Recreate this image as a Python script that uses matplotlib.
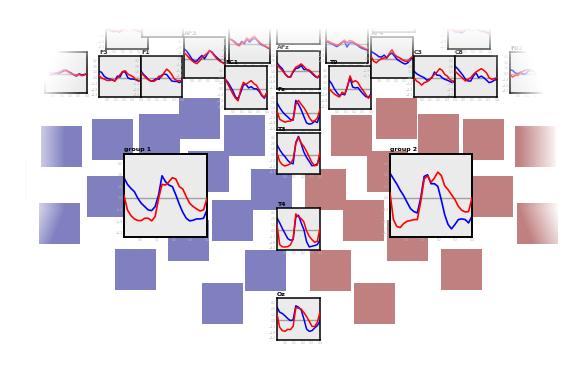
import numpy as np
import matplotlib
matplotlib.use('Agg')
import matplotlib.pyplot as plt

W, H = 584, 368

# time axes (s)
t_small = np.linspace(-0.1, 0.4, 17)
t_group = np.linspace(-0.1, 0.4, 25)

# ---- group averages ----
group1_blue = [2.44, 1.64, 1.16, 0.76, -0.04, -0.64, -1.04, -1.44, -1.52, -1.04, 0.36, 2.68, 1.96,
               1.56, 1.36, 0.36, -0.76, -1.72, -2.44, -2.76, -2.68, -2.52, -2.52, -2.44, -1.44]
group1_red = [0.3, -1.44, -2.12, -2.52, -2.72, -2.72, -2.44, -2.44, -2.76, -2.24, -0.04, 1.64, 1.56,
              1.96, 2.44, 2.28, 1.36, 1.08, 0.16, -0.64, -1.04, -1.32, -1.56, -1.44, -0.04]
group2_blue = [3.0, 2.32, 1.68, 0.92, 0.28, -0.52, -1.28, -1.64, -1.8, 0.0, 2.6, 2.8, 1.72,
               1.72, 1.4, -0.2, -2.0, -3.2, -3.72, -3.2, -2.6, -2.52, -2.6, -3.0, -2.2]
group2_red = [0.6, -2.6, -3.44, -3.56, -3.08, -2.8, -2.72, -2.6, -2.6, -0.4, 2.28, 2.68, 1.88,
              2.4, 3.12, 2.72, 1.48, 1.0, 0.4, -0.2, -1.0, -1.48, -1.68, -1.64, 0.0]

# ---- single channels ----
ch_b_blue = [2.17, 1.3, 0.61, -0.7, -1.48, -1.57, -0.26, 0.7, 0.87, 1.48, 0.43, 0.43, 0.09, -0.61, -1.3, -1.74, -1.04]
ch_b_red = [1.74, 0.87, 0.17, -0.78, -1.48, -1.57, 0.0, 1.04, 1.39, 1.91, 1.22, 0.43, 0.26, -0.35, -1.04, -1.74, -0.87]
ch_c_blue = [2.68, 1.34, 0.27, -0.54, -1.16, -1.88, -2.05, 3.3, 2.23, 0.8, -1.07, -2.77, -3.13, -2.95, -2.32, -2.68, -0.45]
ch_c_red = [0.45, -1.79, -2.23, -2.59, -2.32, -2.32, -1.79, 2.23, 3.3, 2.23, 1.34, 0.18, -1.34, -2.32, -2.23, -1.52, 0.89]
ch_t3_blue = [2.44, 1.22, 0.24, -0.49, -1.38, -2.03, -2.2, 3.0, 4.47, 2.68, 0.65, -0.65, -1.63, -2.68, -2.6, -2.2, -0.41]
ch_t3_red = [0.41, -1.63, -2.44, -2.76, -2.52, -2.2, -1.06, 2.68, 4.23, 2.85, 2.03, 0.81, -0.57, -1.87, -2.68, -2.52, 0.81]
ch_t4_blue = [2.94, 1.75, 0.4, -0.79, -1.98, -2.38, -2.22, 3.17, 3.57, 1.75, 0.16, -2.7, -3.97, -3.81, -3.65, -3.41, -2.22]
ch_t4_red = [1.35, -3.41, -3.97, -3.97, -3.89, -3.49, -2.06, 3.89, 3.17, 2.78, 1.98, -0.16, -1.43, -2.22, -2.86, -2.62, 0.56]
ch_oz_blue = [3.12, 1.92, 1.6, 1.04, 0.4, -0.08, 0.08, 3.44, 3.12, 2.48, 0.32, -2.08, -2.64, -2.48, -1.84, -1.28, -0.24]
ch_oz_red = [1.52, -1.68, -2.48, -2.64, -2.16, -2.24, -1.44, 2.96, 2.88, 2.64, 1.84, 0.88, -0.24, -1.44, -1.52, -0.48, 1.92]
ch_f3_blue = [1.61, 1.29, 0.32, -0.08, -0.32, -0.48, -0.81, 0.4, 0.16, 1.45, 1.37, 0.0, -0.32, -0.32, -0.48, -0.81, -0.56]
ch_f3_red = [0.56, -0.08, -0.32, -0.65, -0.65, -0.48, -0.81, -0.08, 0.73, 1.53, 1.69, 0.89, 0.56, 0.24, -0.4, -0.65, -0.81]
ch_f1_blue = [1.6, 0.8, 0.2, -0.5, -0.9, -0.6, -0.2, -0.4, 0.6, 0.9, 0.8, 0.0, -0.8, -0.9, -0.9, -1.2, -0.8]
ch_f1_red = [1.2, 0.6, -0.1, -0.5, -0.8, -0.9, -0.5, 0.4, 0.2, 1.2, 2.1, 1.6, 0.8, -0.3, -0.7, -0.7, -0.8]
ch_fc1_blue = [2.4, 1.9, 1.0, 0.0, -0.6, -0.6, 0.2, 0.8, 0.0, 1.0, 2.0, 1.6, 0.8, 0.2, -0.4, -0.9, -1.2]
ch_fc1_red = [1.6, 0.9, 0.2, -0.4, -0.9, -1.2, -0.6, 0.2, 0.8, 1.3, 2.0, 1.4, 0.6, -0.1, -0.6, -0.9, -1.4]
ch_fc3_blue = [2.3, 1.6, 0.6, -0.5, -1.9, -2.3, -0.8, 0.9, 1.0, 0.2, 0.5, 0.0, 0.0, -0.6, -1.6, -2.2, -0.8]
ch_fc3_red = [2.3, 1.2, 0.0, -1.2, -2.2, -2.8, -0.2, 1.5, 1.0, 1.5, 1.9, 1.2, 0.8, -0.2, -1.4, -2.0, -0.8]
ch_fc4_blue = [2.0, 1.2, 0.0, -0.9, -1.6, -1.2, -1.4, 0.5, 2.5, 0.4, 0.2, 0.3, -0.5, -1.2, -1.8, -2.0, -1.2]
ch_fc4_red = [0.0, -0.6, -1.2, -1.6, -1.9, -0.8, -1.2, 0.5, 3.0, 1.5, 1.9, 1.5, 0.4, -0.4, -1.3, -2.2, -1.5]
ch_fc2_blue = [1.8, 1.4, 1.0, 0.5, 0.4, 0.9, 0.2, 1.0, 1.4, 0.6, -0.2, -0.6, -1.0, -1.3, -1.0, -0.3, 0.6]
ch_fc2_red = [0.6, -0.6, -1.0, -0.4, 0.0, 0.2, 0.2, 1.3, 2.2, 1.0, 0.5, 0.2, -0.3, -0.6, -0.6, 0.1, 0.6]
ch_f2_blue = [1.6, 1.0, 0.6, 0.3, 0.0, -0.6, -0.4, 0.0, 1.4, 0.6, 0.6, 0.0, -0.4, -0.6, -0.9, -1.2, -0.8]
ch_f2_red = [0.0, -0.8, -1.2, -1.8, -1.2, -1.0, -0.6, 0.2, 0.8, 1.4, 2.2, 1.8, 0.8, 0.4, -0.4, -0.8, -0.8]
ch_f4_blue = [2.8, 2.2, 1.4, 0.6, -0.4, -0.8, -0.8, 0.4, 1.2, 0.0, 0.4, 0.0, -0.6, -1.2, -1.0, -0.6, -0.4]
ch_f4_red = [1.6, 1.0, 0.4, -0.2, -0.8, -0.4, 0.0, 0.8, 1.4, 1.8, 2.2, 1.8, 1.2, 0.0, -0.4, -0.2, 0.0]
ch_f7_blue = [0.8, 0.5, 0.3, 0.0, 0.2, 0.0, 0.3, 0.6, 0.9, 0.5, 0.2, -0.3, -0.6, 0.0, -0.3, -0.2, 0.0]
ch_f7_red = [0.2, 0.0, -0.3, -0.2, 0.0, 0.3, 0.5, 0.9, 0.7, 0.4, 0.0, -0.2, -0.4, -0.2, -0.5, -0.3, 0.1]
ch_af3_blue = [0.2, 0.0, -0.3, -0.5, -0.2, -0.6, -0.3, 0.3, 0.8, 0.4, 0.6, 0.0, -0.3, -0.5, -0.2, -0.6, -0.3]
ch_af3_red = [0.5, 0.3, 0.0, -0.2, -0.4, -0.3, 0.0, 0.5, 0.9, 0.6, 0.3, 0.1, -0.2, -0.3, -0.5, -0.4, -0.2]
ch_af1_blue = [1.2, 1.0, 0.6, 0.0, -0.3, 0.6, 0.0, 1.2, 0.4, 1.0, 1.4, 0.8, 0.0, -0.4, -0.6, -1.0, -1.3]
ch_af1_red = [1.4, 0.9, 0.4, -0.2, -0.5, 0.2, 0.4, 1.4, 0.8, 1.5, 1.8, 1.0, 0.3, -0.2, -0.5, -0.9, -1.1]
ch_fpz_blue = [0.5, 0.3, 0.0, -0.4, -0.1, 0.2, 0.5, 0.8, 0.3, 0.9, 0.4, 0.0, -0.3, -0.5, -0.2, -0.6, 0.0]
ch_fpz_red = [0.3, 0.4, 0.2, -0.1, -0.3, 0.0, 0.3, 0.6, 0.9, 0.7, 0.5, 0.2, -0.2, -0.4, -0.3, -0.4, -0.1]
ch_af2_blue = [0.6, 0.3, 0.0, -0.3, -0.7, -0.4, 0.2, 0.6, -0.8, 0.2, 0.3, 0.0, -0.4, -0.9, -1.2, -1.4, -1.6]
ch_af2_red = [0.8, 0.6, 0.2, 0.0, -0.4, -0.2, 0.4, 0.9, 0.2, 0.8, 0.6, 0.2, -0.2, -0.6, -0.9, -1.2, -1.4]
ch_af4_blue = [0.8, 0.4, 0.0, -0.6, -0.3, -0.8, -0.5, 0.4, 0.0, 0.6, 1.2, 0.4, -0.2, -0.4, -0.3, -0.8, -1.0]
ch_af4_red = [0.4, 0.2, -0.2, -0.4, -0.6, -0.3, 0.0, 0.6, 0.4, 0.9, 0.8, 0.2, -0.1, -0.3, -0.6, -0.7, -0.8]
ch_f8_blue = [1.0, 0.8, 0.2, 0.0, 0.4, -0.1, 0.0, 0.6, 0.9, 0.6, -0.4, -1.0, -0.6, -0.2, -0.5, 0.0, 0.2]
ch_f8_red = [-0.2, -0.8, -0.4, -0.4, 0.3, 0.6, 0.9, 1.0, 0.8, 0.6, 0.2, 0.0, 0.3, 0.4, 0.0, -0.2, -0.2]
ch_fp1_blue = [0.4, 0.2, -0.2, -0.5, -0.7, -0.4, 0.0, 0.4, 0.2, 0.5, 0.3, -0.1, -0.3, -0.2, -0.4, -0.3, -0.2]
ch_fp1_red = [0.6, 0.3, 0.0, -0.3, -0.5, -0.6, -0.2, 0.3, 0.5, 0.4, 0.2, 0.0, -0.2, -0.4, -0.3, -0.2, 0.0]
ch_fp2_blue = [0.5, 0.3, 0.1, -0.2, -0.6, -0.5, -0.1, 0.3, 0.6, 0.2, 0.0, -0.4, -0.6, -0.3, -0.1, 0.0, 0.2]
ch_fp2_red = [0.2, 0.0, -0.2, -0.4, -0.3, -0.1, 0.2, 0.5, 0.8, 0.5, 0.3, 0.0, -0.2, -0.4, -0.2, 0.0, 0.1]
ch_af8_blue = [0.3, 0.1, -0.1, -0.3, -0.5, -0.2, 0.1, 0.3, 0.5, 0.2, -0.1, -0.3, -0.5, -0.3, -0.2, 0.0, 0.1]
ch_af8_red = [0.1, 0.0, -0.2, -0.1, 0.0, 0.2, 0.4, 0.6, 0.4, 0.2, 0.0, -0.1, -0.3, -0.2, -0.1, 0.0, 0.0]

# sensor squares (top-left corner, px)
blue_sq_x = [-14, 41, 39, 92, 87, 139, 179, 224, 188, 251, 212, 168, 115, 245, 202]
blue_sq_y = [158, 126, 203, 119, 176, 114, 98, 115, 151, 169, 200, 220, 249, 250, 283]
red_sq_x = [331, 376, 418, 463, 515, 367, 305, 343, 472, 517, 570, 387, 310, 441, 354]
red_sq_y = [115, 98, 114, 119, 126, 151, 169, 200, 176, 203, 158, 220, 250, 249, 283]
sq_size = 41

# channel layout: name, left, top, width, height, blue, red
channels = [
    ('F7', 45, 52, 42, 41, ch_f7_blue, ch_f7_red),
    ('F3', 99, 56, 42, 41, ch_f3_blue, ch_f3_red),
    ('F1', 141, 56, 41, 41, ch_f1_blue, ch_f1_red),
    ('', 106, 8, 42, 41, ch_af3_blue, ch_af3_red),
    ('', 142, -5, 41, 42, ch_fp1_blue, ch_fp1_red),
    ('AF3', 184, 37, 41, 41, ch_fc1_blue, ch_fc1_red),
    ('AF1', 229, 22, 41, 41, ch_af1_blue, ch_af1_red),
    ('FC1', 225, 66, 42, 43, ch_fc3_blue, ch_fc3_red),
    ('', 277, 3, 43, 41, ch_fpz_blue, ch_fpz_red),
    ('AFz', 277, 51, 43, 38, ch_b_blue, ch_b_red),
    ('Fz', 277, 93, 43, 37, ch_c_blue, ch_c_red),
    ('T3', 277, 133, 43, 41, ch_t3_blue, ch_t3_red),
    ('T4', 277, 208, 43, 42, ch_t4_blue, ch_t4_red),
    ('Oz', 277, 298, 43, 42, ch_oz_blue, ch_oz_red),
    ('AF2', 326, 22, 42, 41, ch_af2_blue, ch_af2_red),
    ('T9', 329, 66, 42, 43, ch_fc4_blue, ch_fc4_red),
    ('AF4', 371, 37, 42, 41, ch_fc2_blue, ch_fc2_red),
    ('', 373, -10, 42, 42, ch_fp2_blue, ch_fp2_red),
    ('C3', 414, 56, 41, 41, ch_f2_blue, ch_f2_red),
    ('C8', 455, 56, 42, 41, ch_f4_blue, ch_f4_red),
    ('AF8', 448, 8, 42, 41, ch_af4_blue, ch_af4_red),
    ('F02', 510, 52, 42, 41, ch_f8_blue, ch_f8_red),
    ('', 485, -30, 42, 42, ch_af8_blue, ch_af8_red),
]

groups = [
    ('group 1', 124, 154, 83, 83, group1_blue, group1_red),
    ('group 2', 390, 154, 82, 83, group2_blue, group2_red),
]

fig = plt.figure(figsize=(W / 100, H / 100), dpi=100)


def px_axes(x, y, w, h):
    return fig.add_axes([x / W, 1 - (y + h) / H, w / W, h / H])


# squares in pixel coordinates
bg = fig.add_axes([0, 0, 1, 1])
bg.set_xlim(0, W)
bg.set_ylim(H, 0)
bg.axis('off')
bg.bar(blue_sq_x, sq_size, width=sq_size, bottom=blue_sq_y, align='edge', color='#8080c0', lw=0)
bg.bar(red_sq_x, sq_size, width=sq_size, bottom=red_sq_y, align='edge', color='#c08080', lw=0)


def erp_panel(name, x, y, w, h, blue, red, t, lw_line, lw_spine):
    ax = px_axes(x, y, w, h)
    ax.set_facecolor('#ebebeb')
    ax.axhline(0, color='#a0a0a0', lw=1.0, zorder=1)
    ax.plot(t, blue, color='#0000ff', lw=lw_line, zorder=2)
    ax.plot(t, red, color='#ff0000', lw=lw_line, zorder=3)
    ax.set_xlim(t[0], t[-1])
    ax.set_ylim(-4.7, 5.3)
    if y > 5:
        ax.set_xticks([0.0, 0.1, 0.2, 0.3, 0.4])
        ax.set_yticks([-4.2, -2.8, -1.4, 0, 1.4, 2.8, 4.2])
    else:
        ax.set_xticks([])
        ax.set_yticks([])
    ax.tick_params(length=0, labelsize=2.2, labelcolor='#b8b8b8', pad=1)
    for s in ax.spines.values():
        s.set_linewidth(lw_spine)
        s.set_color('black')
    if name:
        ax.text(0, 1.03, name, transform=ax.transAxes, fontsize=4.5, fontweight='bold',
                ha='left', va='bottom', clip_on=False)
    return ax


for name, x, y, w, h, b, r in channels:
    erp_panel(name, x, y, w, h, b, r, t_small, 1.1, 1.1)

for name, x, y, w, h, b, r in groups:
    erp_panel(name, x, y, w, h, b, r, t_group, 1.2, 1.4)

# white fade towards the edges
X, Y = np.meshgrid(np.arange(W) + 0.5, np.arange(H) + 0.5)
dx = np.abs(X - 292)
hfade = np.clip((dx - 227 + 0.4 * np.maximum(0, 130 - Y) - 0.4 * np.maximum(0, Y - 210)) / 40, 0, 1)
vfade = np.clip((58 - Y) / 30, 0, 1)
alpha = 1 - (1 - hfade) * (1 - vfade)
img = np.ones((H, W, 4))
img[..., 3] = alpha
ov = fig.add_axes([0, 0, 1, 1])
ov.set_zorder(100)
ov.imshow(img, extent=(0, W, H, 0), interpolation='bilinear')
ov.set_xlim(0, W)
ov.set_ylim(H, 0)
ov.axis('off')

fig.savefig('out.png', dpi=100)
